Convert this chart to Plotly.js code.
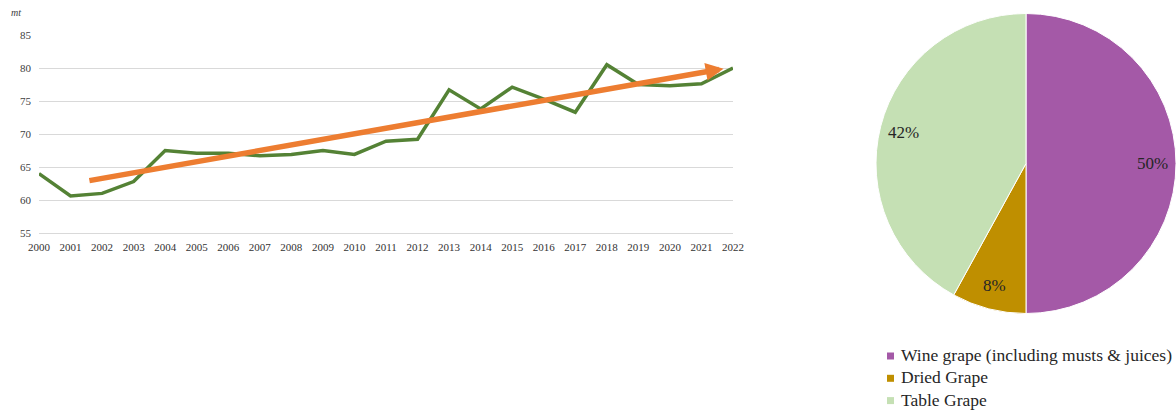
<!DOCTYPE html>
<html>
<head>
<meta charset="utf-8">
<script src="https://cdn.plot.ly/plotly-3.0.1.min.js"></script>
<style>html,body{margin:0;padding:0;background:#fff;}#chart{width:1176px;height:419px;}</style>
</head>
<body>
<div id="chart"></div>
<script>
// ---- data ----
var years = [2000,2001,2002,2003,2004,2005,2006,2007,2008,2009,2010,2011,2012,2013,2014,2015,2016,2017,2018,2019,2020,2021,2022];
var production = [64.0,60.6,61.0,62.8,67.5,67.1,67.1,66.7,66.9,67.5,66.9,68.9,69.2,76.7,73.8,77.1,75.3,73.3,80.5,77.5,77.3,77.6,80.0];
var trendYears = [2001.55, 2021.7];
var trendValues = [62.9, 79.9];
var yTicks = [55,60,65,70,75,80,85];
var unitLabel = 'mt';

var pieLabels = ['Wine grape (including musts & juices)','Dried Grape','Table Grape'];
var pieValues = [50, 8, 42];
var pieColors = ['#A459A7','#BF8F00','#C5E0B4'];

// ---- layout constants ----
var W = 1176, H = 419;
var serif = 'Liberation Serif, Georgia, serif';
var pieDomX = [876/W, 1];
var pieDomY = [1-314/H, 1-13/H];

var traces = [
  {
    type: 'scatter', mode: 'lines',
    x: years, y: production,
    line: {color: '#548235', width: 3.5},
    showlegend: false, hoverinfo: 'x+y',
    xaxis: 'x', yaxis: 'y'
  },
  {
    type: 'pie',
    labels: pieLabels, values: pieValues,
    marker: {colors: pieColors, line: {color: '#ffffff', width: 1}},
    sort: false, direction: 'clockwise', rotation: 0,
    textinfo: 'none', hoverinfo: 'label+percent',
    domain: {x: pieDomX, y: pieDomY},
    showlegend: false
  }
];

var annotations = [
  {
    xref: 'x', yref: 'y', axref: 'x', ayref: 'y',
    x: trendYears[1], y: trendValues[1],
    ax: trendYears[0], ay: trendValues[0],
    text: '', showarrow: true,
    arrowhead: 2, arrowsize: 0.65, arrowwidth: 5.5, arrowcolor: '#ED7D31',
    standoff: 0
  },
  {
    xref: 'paper', yref: 'paper', x: 16/W, y: 1-12/H,
    xanchor: 'center', yanchor: 'middle', showarrow: false,
    text: '<i>' + unitLabel + '</i>',
    font: {family: serif, size: 10, color: '#404040'}
  }
];
var shapes = [];

// pie percentage labels placed near outer edge, computed from values
var total = pieValues.reduce(function(a,b){return a+b;}, 0);
var cxPx = (pieDomX[0]+pieDomX[1])/2*W;
var cyPx = (1-(pieDomY[0]+pieDomY[1])/2)*H;
var rPx = Math.min((pieDomX[1]-pieDomX[0])*W, (pieDomY[1]-pieDomY[0])*H)/2;
var cum = 0;
for (var i = 0; i < pieValues.length; i++) {
  var mid = (cum + pieValues[i]/2)/total*2*Math.PI;
  cum += pieValues[i];
  var rr = 0.84*rPx;
  var px = cxPx + rr*Math.sin(mid);
  var py = cyPx - rr*Math.cos(mid);
  annotations.push({
    xref: 'paper', yref: 'paper', x: px/W, y: 1-py/H,
    xanchor: 'center', yanchor: 'middle', showarrow: false,
    text: Math.round(pieValues[i]/total*100) + '%',
    font: {family: serif, size: 17, color: '#262626'}
  });
}

// legend (square swatches + labels)
var legX = 887, legTextX = 899, legY0 = 356, legStep = 22.3, sw = 7;
for (var j = 0; j < pieLabels.length; j++) {
  var cy = legY0 + j*legStep;
  shapes.push({
    type: 'rect', xref: 'paper', yref: 'paper',
    x0: legX/W, x1: (legX+sw)/W, y0: 1-(cy+sw/2)/H, y1: 1-(cy-sw/2)/H,
    fillcolor: pieColors[j], line: {width: 0}
  });
  annotations.push({
    xref: 'paper', yref: 'paper', x: legTextX/W, y: 1-(cy-1)/H,
    xanchor: 'left', yanchor: 'middle', showarrow: false,
    text: pieLabels[j].replace('&','&amp;'),
    font: {family: serif, size: 17.5, color: '#262626'}
  });
}

var layout = {
  width: W, height: H,
  margin: {l: 0, r: 0, t: 0, b: 0},
  paper_bgcolor: '#ffffff', plot_bgcolor: '#ffffff',
  showlegend: false,
  xaxis: {
    domain: [39/W, 733/W],
    range: [2000, 2022],
    tickvals: years, ticktext: years.map(String),
    showgrid: false, zeroline: false,
    showline: true, linecolor: '#D9D9D9', linewidth: 1,
    ticks: '', ticklabelstandoff: 4,
    tickfont: {family: serif, size: 11, color: '#333333'},
    anchor: 'y'
  },
  yaxis: {
    domain: [1-233/H, 1-35/H],
    range: [55, 85],
    tickvals: yTicks,
    showgrid: true, gridcolor: '#D9D9D9', gridwidth: 1,
    zeroline: false, showline: false,
    ticks: '', ticklabelstandoff: 7,
    tickfont: {family: serif, size: 11, color: '#404040'},
    anchor: 'x'
  },
  shapes: shapes,
  annotations: annotations
};

Plotly.newPlot('chart', traces, layout, {displayModeBar: false, staticPlot: true});
</script>
</body>
</html>
